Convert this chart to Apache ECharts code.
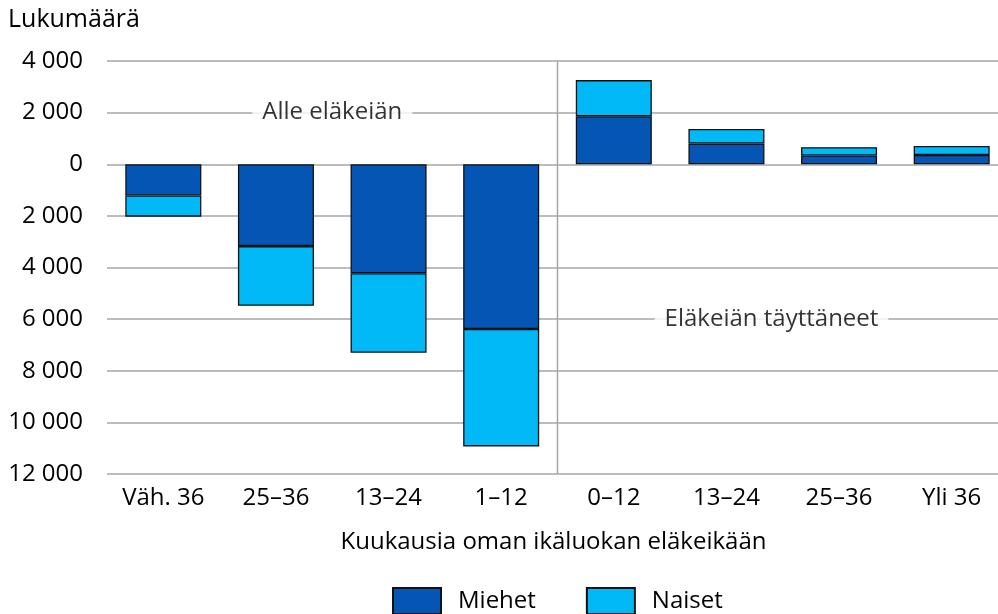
<!DOCTYPE html>
<html>
<head>
<meta charset="utf-8">
<script src="https://cdn.jsdelivr.net/npm/echarts@6/dist/echarts.min.js"></script>
<style>
  html, body { margin: 0; padding: 0; background: #fff; overflow: hidden; }
  #chart { width: 1008px; height: 614px; }
</style>
</head>
<body>
<div id="chart"></div>
<script>
// luokat: kuukausia oman ikäluokan eläkeikään
const categories = ['Väh. 36', '25–36', '13–24', '1–12', '0–12', '13–24', '25–36', 'Yli 36']
// alle eläkeiän negatiivisina, eläkeiän täyttäneet positiivisina
const miehet = [-1210, -3170, -4220, -6380, 1860, 800, 340, 360]
const naiset = [-820, -2310, -3080, -4550, 1400, 570, 320, 350]
const dividerX = [[4, -12000], [4, 4000]]
const notes = [
  { name: 'Alle eläkeiän', value: [2, 2000] },
  { name: 'Eläkeiän täyttäneet', value: [5.9, -6000] }
]

const font = '"Open Sans", "Noto Sans", sans-serif'
const fmt = v => Math.abs(v).toString().replace(/\B(?=(\d{3})+(?!\d))/g, ' ')

let chart = echarts.init(document.getElementById('chart'))
chart.setOption({
  textStyle: { fontFamily: font },
  animation: false,
  title: {
    text: 'Lukumäärä',
    left: 3,
    top: 2,
    textStyle: { fontFamily: font, fontSize: 25, fontWeight: 'normal', color: '#000' }
  },
  legend: {
    data: ['Miehet', 'Naiset'],
    top: 582,
    left: 387,
    itemWidth: 48,
    itemHeight: 26,
    itemGap: 50,
    icon: 'rect',
    textStyle: { fontFamily: font, fontSize: 24, color: '#000', padding: [0, 0, 0, 12] }
  },
  grid: { left: 107, right: 0, top: 61, bottom: 140 },
  xAxis: [
    {
      type: 'category',
      data: categories,
      axisLine: { show: false },
      axisTick: { show: false },
      axisLabel: { fontSize: 24, color: '#000', margin: 12, fontFamily: font },
      name: 'Kuukausia oman ikäluokan eläkeikään',
      nameLocation: 'middle',
      nameGap: 56,
      nameTextStyle: { fontSize: 24, color: '#000', fontFamily: font, padding: [0, 8, 0, 0] }
    },
    { type: 'value', min: 0, max: 8, show: false }
  ],
  yAxis: {
    type: 'value',
    min: -12000,
    max: 4000,
    interval: 2000,
    axisLine: { show: false },
    axisTick: { show: false },
    axisLabel: { fontSize: 24, color: '#000', margin: 24, formatter: fmt, fontFamily: font },
    splitLine: { lineStyle: { color: '#a6a6a6', width: 1.5 } }
  },
  series: [
    {
      name: 'Miehet',
      type: 'bar',
      stack: 'yht',
      barWidth: '67.5%',
      data: miehet,
      itemStyle: { color: '#0455B4', borderColor: '#111', borderWidth: 1.3 }
    },
    {
      name: 'Naiset',
      type: 'bar',
      stack: 'yht',
      data: naiset,
      itemStyle: { color: '#00B9F6', borderColor: '#111', borderWidth: 1.3 }
    },
    {
      type: 'line',
      xAxisIndex: 1,
      data: dividerX,
      symbol: 'none',
      silent: true,
      lineStyle: { color: '#a6a6a6', width: 1.5 }
    },
    {
      type: 'scatter',
      xAxisIndex: 1,
      data: notes,
      symbolSize: 0,
      silent: true,
      label: {
        show: true,
        position: 'inside',
        formatter: p => p.name,
        fontSize: 24,
        color: '#000',
        fontFamily: font,
        backgroundColor: '#fff',
        padding: [2, 10]
      }
    }
  ]
})
</script>
</body>
</html>
